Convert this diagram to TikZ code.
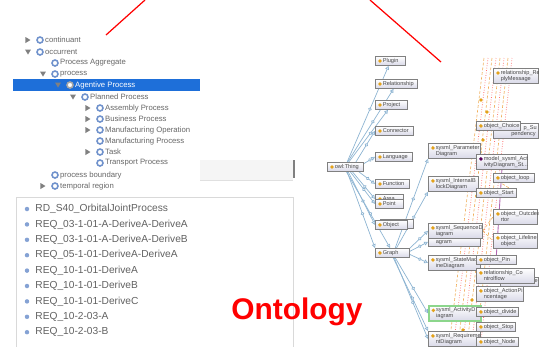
\documentclass[tikz,border=0pt]{standalone}
\usepackage{fontspec}
\setmainfont{Liberation Sans}
\usetikzlibrary{positioning,arrows.meta,decorations.markings}
\pgfdeclarelayer{bg}
\pgfsetlayers{bg,main}

\definecolor{ringblue}{HTML}{7092CC}
\definecolor{selblue}{HTML}{1E6FD9}
\definecolor{treegray}{HTML}{666666}
\definecolor{edgeblue}{HTML}{8DB4D2}
\definecolor{boxfill}{HTML}{D9D9E8}
\definecolor{dotorange}{HTML}{E3A21A}
\definecolor{dashorange}{HTML}{F0AE5A}
\definecolor{actgreen}{HTML}{8CD68C}

\newcommand\entl[1]{\begin{tabular}{@{\hspace{3.8pt}}l@{}}#1\end{tabular}}

\begin{document}
\begin{tikzpicture}[x=0.02cm,y=-0.02cm,
    cls/.style    = {anchor=west,inner sep=0pt,text=treegray,font=\fontsize{4.4}{5}\selectfont},
    ring/.style   = {circle,draw=ringblue,line width=0.9pt,fill=white,inner sep=0pt,minimum size=0.12cm},
    req/.style    = {anchor=west,inner sep=0pt,text=black!62,font=\fontsize{5.8}{7}\selectfont},
    reqdot/.style = {circle,fill=ringblue!85,inner sep=0pt,minimum size=0.09cm},
    ent/.style    = {draw=black!50,line width=0.45pt,top color=white,bottom color=boxfill,
                     anchor=north west,inner sep=0.4pt,align=left,text=black!72,
                     font=\fontsize{3.2}{3.6}\selectfont,minimum height=0.18cm,
                     path picture={\fill[dotorange] ([xshift=2.6pt,yshift=-2.6pt]path picture bounding box.north west) circle (1.1pt);}},
    nodot/.style  = {path picture={}},
    bw/.style     = {text width=#1*0.02cm-0.8pt},
    tall/.style   = {minimum height=0.3cm},
    tie/.style    = {draw=edgeblue,line width=0.4pt,-{Triangle[open,length=2.2pt,width=2.2pt]}},
    tick/.style   = {postaction={decorate,decoration={markings,
                     mark=at position 0.55 with {\filldraw[draw=edgeblue,fill=white] (0,0) circle (0.8pt);}}}},
    bundle/.style = {draw=dashorange,line width=0.35pt,dash pattern=on 1.6pt off 1.1pt},
    bundlered/.style = {draw=red!55,line width=0.45pt,dash pattern=on 0.4pt off 1pt},
    expR/.pic     = {\fill[black!50] (-2.5,-3) -- (2.5,0) -- (-2.5,3) -- cycle;},
    expD/.pic     = {\fill[black!50] (-3,-2.5) -- (3,-2.5) -- (0,2.5) -- cycle;},
  ]
  \useasboundingbox (0,0) rectangle (539,346);
  \clip (0,0) rectangle (539,346);

  % class hierarchy panel
  \fill[selblue] (13,79) rectangle (200,91);
  \fill[black!4] (200,160) rectangle (293,180);
  \draw[black!12] (200,180) -- (293,180);
  \draw[black!50,line width=1pt] (294,160) -- (294,178);
  \draw[black!15] (16,197) rectangle (293,352);

  \node[ring] (rcont) at (40,40) {};
  \node[cls,right=0.02cm of rcont] (continuant) {continuant};
  \pic at (28,40) {expR};
  \node[ring] (rocc) at (40,52) {};
  \node[cls,right=0.02cm of rocc] (occurrent) {occurrent};
  \pic at (28,52) {expD};
  \node[ring] (rpagg) at (55,63) {};
  \node[cls,right=0.02cm of rpagg] (procagg) {Process Aggregate};
  \node[ring] (rproc) at (55,74) {};
  \node[cls,right=0.02cm of rproc] (process) {process};
  \pic at (43,74) {expD};
  \node[ring,draw=black!35] (ragent) at (70,85) {};
  \node[cls,text=white,right=0.02cm of ragent] (agentive) {Agentive Process};
  \pic at (58,85) {expD};
  \node[ring] (rplan) at (85,97) {};
  \node[cls,right=0.02cm of rplan] (planned) {Planned Process};
  \pic at (73,97) {expD};
  \node[ring] (rasm) at (100,108) {};
  \node[cls,right=0.02cm of rasm] (assembly) {Assembly Process};
  \pic at (88,108) {expR};
  \node[ring] (rbus) at (100,119) {};
  \node[cls,right=0.02cm of rbus] (business) {Business Process};
  \pic at (88,119) {expR};
  \node[ring] (rmop) at (100,130) {};
  \node[cls,right=0.02cm of rmop] (mfgop) {Manufacturing Operation};
  \pic at (88,130) {expR};
  \node[ring] (rmpr) at (100,141) {};
  \node[cls,right=0.02cm of rmpr] (mfgproc) {Manufacturing Process};
  \node[ring] (rtask) at (100,152) {};
  \node[cls,right=0.02cm of rtask] (task) {Task};
  \pic at (88,152) {expR};
  \node[ring] (rtrans) at (100,163) {};
  \node[cls,right=0.02cm of rtrans] (transport) {Transport Process};
  \node[ring] (rbound) at (55,175) {};
  \node[cls,right=0.02cm of rbound] (boundary) {process boundary};
  \node[ring] (rtemp) at (55,186) {};
  \node[cls,right=0.02cm of rtemp] (temporal) {temporal region};
  \pic at (43,186) {expR};

  % individuals
  \foreach \name [count=\k] in {RD\_S40\_OrbitalJointProcess, REQ\_03-1-01-A-DeriveA-DeriveA,
      REQ\_03-1-01-A-DeriveA-DeriveB, REQ\_05-1-01-DeriveA-DeriveA, REQ\_10-1-01-DeriveA,
      REQ\_10-1-01-DeriveB, REQ\_10-1-01-DeriveC, REQ\_10-2-03-A, REQ\_10-2-03-B}
  {
    \node[reqdot] (bul\k) at (27,193.6+15.4*\k) {};
    \node[req,right=0.11cm of bul\k] (ind\k) {\name};
  }

  \node[anchor=base west,inner sep=0pt,text=red,font=\fontsize{17}{20}\selectfont\bfseries] (onto) at (231,319) {Ontology};

  % graph view
  \node[ent,bw=30] (plugin) at (375,56) {\entl{Plugin}};
  \node[ent,bw=42] (relat) at (375,79) {\entl{Relationship}};
  \node[ent,bw=32] (project) at (375,100) {\entl{Project}};
  \node[ent,bw=38] (connector) at (375,126) {\entl{Connector}};
  \node[ent,bw=37] (language) at (375,152) {\entl{Language}};
  \node[ent,bw=36] (thing) at (327,162) {\entl{owl:Thing}};
  \node[ent,bw=34] (function) at (375,179) {\entl{Function}};
  \node[ent,bw=28] (area) at (375,194) {\entl{Area}};
  \node[ent,bw=28] (point) at (375,199) {\entl{Point}};
  \node[ent,nodot,bw=33] (objback) at (380,219) {};
  \node[ent,bw=32] (object) at (375,220) {\entl{Object}};
  \node[ent,bw=34] (graph) at (375,248) {\entl{Graph}};

  \node[ent,tall,bw=52] (param) at (428,143) {\entl{sysml\_Parameter\\Diagram}};
  \node[ent,tall,bw=50] (internal) at (428,176) {\entl{sysml\_InternalB\\lockDiagram}};
  \node[ent,nodot,bw=52] (usecase) at (428,237) {\entl{agram}};
  \node[ent,tall,bw=54] (sequence) at (428,223) {\entl{sysml\_SequenceD\\iagram}};
  \node[ent,tall,bw=52] (statem) at (428,255) {\entl{sysml\_StateMach\\ineDiagram}};
  \node[ent,tall,bw=52,draw=actgreen,line width=0.9pt] (activity) at (428,305) {\entl{sysml\_ActivityD\\iagram}};
  \node[ent,tall,bw=52] (require) at (428,331) {\entl{sysml\_Requireme\\ntDiagram}};

  \node[ent,tall,bw=45] (reply) at (493,68) {\entl{relationship\_Re\\plyMessage}};
  \node[ent,tall,nodot,bw=45] (subdep) at (493,123) {\entl{\hspace*{13pt}p\_Su\\\hspace*{6pt}pendency}};
  \node[ent,bw=44] (choice) at (476,121) {\entl{object\_Choice}};
  \node[ent,tall,bw=51,path picture={\fill[violet!70!black] ([xshift=2.6pt,yshift=-2.6pt]path picture bounding box.north west) circle (1.1pt);}] (modelact) at (476,154) {\entl{model\_sysml\_Act\\ivityDiagram\_St...}};
  \node[ent,bw=41] (loop) at (493,173) {\entl{object\_loop}};
  \node[ent,bw=40] (start) at (476,188) {\entl{object\_Start}};
  \node[ent,tall,bw=44] (outc) at (493,209) {\entl{object\_Outcdea\\rtor}};
  \node[ent,tall,bw=44] (lifeline) at (493,233) {\entl{object\_Lifeline\\object}};
  \node[ent,bw=40] (pin) at (476,255) {\entl{object\_Pin}};
  \node[ent,nodot,bw=38,align=right] (message) at (500,277) {essage};
  \node[ent,tall,bw=58] (ctrlflow) at (476,268) {\entl{relationship\_Co\\ntrolflow}};
  \node[ent,tall,bw=47] (actpin) at (476,286) {\entl{object\_ActionPi\\ncentage}};
  \node[ent,bw=42] (divide) at (476,307) {\entl{object\_divide}};
  \node[ent,bw=39] (stop) at (476,322) {\entl{object\_Stop}};
  \node[ent,bw=42] (nodeobj) at (476,337) {\entl{object\_Node}};

  \begin{pgfonlayer}{bg}
    % instance links
    \foreach \i in {0,...,7} {
      \coordinate (top\i) at (484+4*\i,58);
      \coordinate (bot\i) at (449+4.5*\i,346);
    }
    \foreach \i in {0,2,4,6} \draw[bundle] (top\i) -- (bot\i);
    \foreach \i in {1,3,5,7} \draw[bundlered] (top\i) -- (bot\i);
    \draw[bundle] (start.east) -- (loop.west);
    \draw[bundle] (sequence.east) -- (outc.west);
    \draw[bundle] (sequence.east) -- (lifeline.west);
    \draw[bundle] (statem.east) -- (pin.west);
    \draw[bundle] (activity.east) -- (divide.west);
    \draw[bundle] (require.east) -- (nodeobj.west);
    \draw[violet!60,line width=0.5pt] (modelact.south) -- (pin.north);
    \foreach \p in {(481,100),(487,112),(483,140),(480,152),(477,196),(471,230),(468,262),(472,300),(463,330)}
      \fill[dotorange] \p circle (1.8);

    % subclass links
    \draw[tie,tick] (thing.70) -- (plugin.250);
    \draw[tie,tick] (thing.65) -- (relat.240);
    \draw[tie,tick] (thing.55) -- (project.235);
    \draw[tie,tick] (thing.25) -- (connector.west);
    \draw[tie,tick] (thing.10) -- (language.west);
    \draw[tie,tick] (thing.-20) -- (function.west);
    \draw[tie,tick] (thing.-35) -- (area.west);
    \draw[tie,tick] (thing.-45) -- (point.west);
    \draw[tie,tick] (thing.-60) -- (object.west);
    \draw[tie,tick] (thing.-70) -- (graph.north west);
    \draw[tie,tick] (thing.-78) -- (graph.115);
    \draw[tie,tick] (graph.60) -- (param.south west);
    \draw[tie,tick] (graph.50) -- (internal.south west);
    \draw[tie,tick] (graph.15) -- (sequence.west);
    \draw[tie,tick] (graph.5) -- (usecase.west);
    \draw[tie,tick] (graph.-5) -- (statem.west);
    \draw[tie,tick] (graph.-60) -- (activity.west);
    \draw[tie,tick] (graph.-70) -- (require.west);
    \draw[tie,tick] (graph.-80) -- (require.north west);
  \end{pgfonlayer}

  % call-out lines
  \coordinate (calltreeend) at (145,0);
  \coordinate (callgraphend) at (370,0);
  \coordinate (calltree) at (106,35);
  \coordinate (callgraph) at (441,62);
  \draw[red,line width=0.7pt] (calltree) -- (calltreeend);
  \draw[red,line width=0.7pt] (callgraph) -- (callgraphend);
\end{tikzpicture}
\end{document}
